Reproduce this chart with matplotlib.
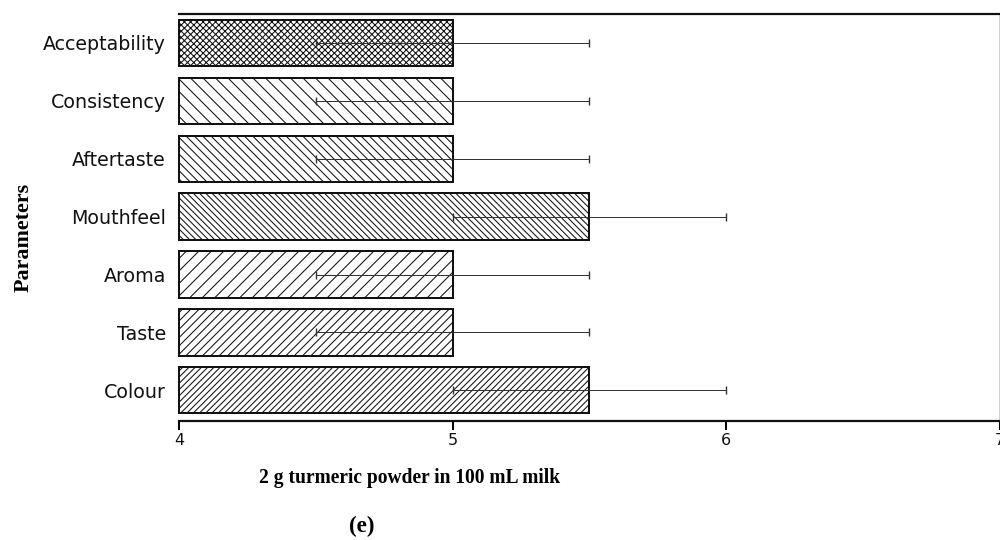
import matplotlib
matplotlib.use("Agg")
import matplotlib.pyplot as plt
import numpy as np

# Sensory scores for turmeric milk (2 g / 100 mL)
parameters = ["Colour", "Taste", "Aroma", "Mouthfeel", "Aftertaste", "Consistency", "Acceptability"]
scores = [5.5, 5.0, 5.0, 5.5, 5.0, 5.0, 5.0]
errors = [0.5, 0.5, 0.5, 0.5, 0.5, 0.5, 0.5]
hatches = ["/" * 8, "/" * 6, "/" * 4, "\\" * 8, "\\" * 6, "\\" * 4, "x" * 8]
x_ticks = [4, 5, 6, 7]

DPI = 150
W, H = 1001, 540
px = 72.0 / DPI  # one pixel in points

plt.rcParams["hatch.linewidth"] = 0.5
plt.rcParams["hatch.color"] = "#222222"

fig = plt.figure(figsize=(W / DPI, H / DPI), dpi=DPI)
ax = fig.add_axes([179 / W, 1 - 421 / H, (999.5 - 179) / W, (421 - 14) / H])

base = x_ticks[0]
y = np.arange(len(parameters))
for yi, s, h in zip(y, scores, hatches):
    ax.barh(yi, s - base, left=base, height=0.8, color="white",
            edgecolor="#111111", linewidth=2.0 * px, hatch=h, zorder=2,
            clip_on=False)

ax.errorbar(scores, y, xerr=errors, fmt="none", ecolor="#333333",
            elinewidth=1.0 * px, capsize=4.0 * px, capthick=1.4 * px, zorder=3)

ax.set_xlim(4, 7)
ax.set_ylim(-0.53, len(parameters) - 0.5)
ax.set_xticks(x_ticks)
ax.set_xticklabels([str(t) for t in x_ticks], fontsize=16 * px, family="DejaVu Sans",
                   color="#111111")
ax.set_yticks(y)
ax.set_yticklabels(parameters, fontsize=19 * px, family="DejaVu Sans", color="#111111")
ax.tick_params(axis="y", length=0, pad=13 * px)
ax.tick_params(axis="x", length=9 * px, width=2 * px, pad=3 * px, direction="out")

ax.spines["left"].set_visible(False)
ax.spines["top"].set_linewidth(2.2 * px)
ax.spines["bottom"].set_linewidth(2.2 * px)
ax.spines["right"].set_linewidth(1.4 * px)
for s in ax.spines.values():
    s.set_color("#111111")

fig.text(410 / W, 1 - 478 / H, "2 g turmeric powder in 100 mL milk",
         ha="center", va="center", fontsize=19.5 * px, fontweight="bold",
         family="Liberation Serif")
fig.text(362 / W, 1 - 526 / H, "(e)", ha="center", va="center",
         fontsize=23 * px, fontweight="bold", family="Liberation Serif")
fig.text(24 / W, 1 - 237 / H, "Parameters", ha="center", va="center",
         rotation=90, fontsize=22 * px, fontweight="bold", family="Liberation Serif")

fig.savefig("out.png", dpi=DPI)
